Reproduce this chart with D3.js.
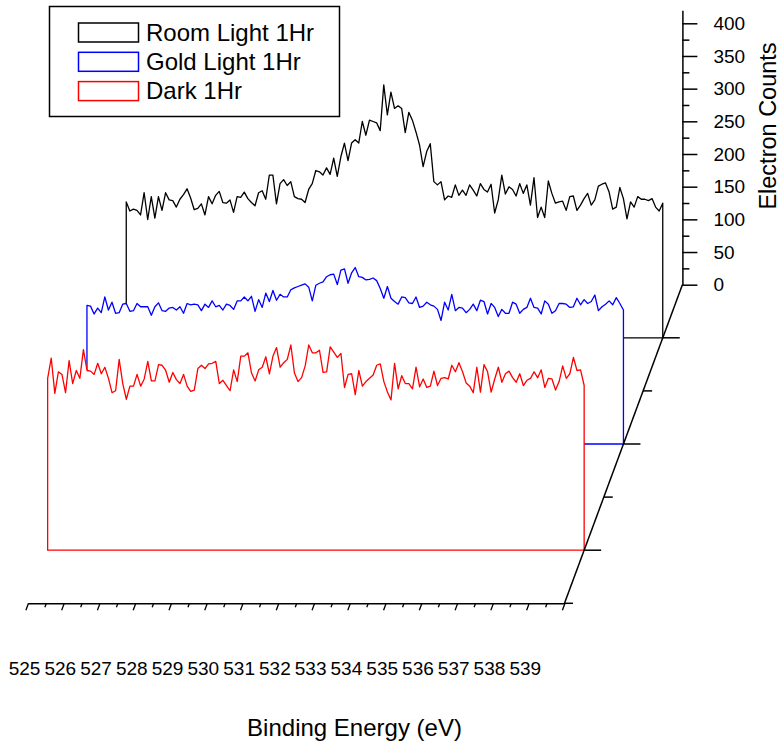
<!DOCTYPE html>
<html>
<head>
<meta charset="utf-8">
<script src="https://cdn.jsdelivr.net/npm/d3@7"></script>
<style>
  body { margin: 0; background: #fff; }
  svg { display: block; font-family: "Liberation Sans", Arial, sans-serif; }
</style>
</head>
<body>
<div id="chart"></div>
<script>
// Binding energy grid: 525.0 .. 540.0 eV, 0.1 eV steps (151 channels)
const energyStart = 525, energyStep = 0.1;

// Electron counts
const roomLight = [208,194,197,195,188,222,181,216,183,216,195,222,211,210,200,212,219,228,214,196,
  198,205,188,216,205,218,224,207,206,211,192,216,215,223,213,207,202,222,225,212,
  249,249,205,236,242,233,239,216,213,212,207,227,236,256,254,249,260,250,275,247,
  277,298,271,298,303,298,331,310,333,331,329,317,387,341,376,351,355,351,314,345,
  333,315,295,262,285,297,239,234,239,211,217,215,234,218,226,218,234,226,217,236,
  227,223,235,191,211,249,220,231,227,217,236,221,234,203,245,184,200,184,240,221,
  206,208,209,195,216,217,195,203,213,221,203,211,232,235,237,223,197,200,230,213,
  182,208,200,216,212,212,210,213,200,194,206];

const goldLight = [212,211,199,208,201,225,205,217,200,201,214,215,203,204,215,210,210,210,197,210,
  216,204,203,208,209,205,210,200,215,213,214,213,204,214,209,219,210,212,205,214,
  212,206,219,219,225,219,226,203,221,209,231,218,235,220,229,225,225,236,239,241,
  243,245,240,219,243,246,248,256,259,260,244,266,268,246,262,270,256,255,251,252,
  254,250,238,223,241,223,218,214,225,224,216,215,225,209,211,217,213,211,206,189,
  217,205,229,204,209,208,201,206,214,204,220,218,199,215,209,195,206,200,200,217,
  214,200,206,209,223,209,208,199,219,214,200,204,215,215,214,209,210,223,213,221,
  215,218,228,204,210,214,219,213,224,215,205];

const dark = [263,294,240,273,269,241,290,255,275,263,307,275,274,269,286,270,280,263,241,244,
  292,255,231,251,251,269,251,262,289,259,259,284,283,275,257,272,261,255,269,251,
  243,245,278,283,278,285,286,289,255,260,252,244,276,258,297,297,302,271,259,276,
  280,296,270,297,310,280,287,292,314,271,258,264,282,314,302,302,306,272,273,311,
  303,295,301,249,269,270,238,275,251,258,263,268,283,285,258,242,230,286,247,267,
  255,255,247,280,250,262,249,251,274,252,263,264,262,283,273,287,273,256,251,241,
  280,242,284,273,242,262,280,257,270,274,264,257,270,252,260,263,273,264,276,249,
  263,262,245,258,282,263,270,295,275,276,252];

const seriesNames = ["Room Light 1Hr", "Gold Light 1Hr", "Dark 1Hr"];
const seriesColors = ["#000000", "#0000ff", "#ff0000"];
const seriesDepth = [5, 3, 1];
const seriesValues = [roomLight, goldLight, dark];

const energyLabels = d3.range(525, 540, 1);
const countTicks = d3.range(0, 401, 50);

const width = 781, height = 743;

const svg = d3.select("#chart").append("svg")
  .attr("width", width)
  .attr("height", height);

// === Scales (3D waterfall projection) ===
const x = d3.scaleLinear().domain([525, 540]).range([28, 564.5]);
const zx = d3.scaleLinear().domain([0, 6]).range([0, 117.9]);
const zy = d3.scaleLinear().domain([0, 6]).range([603.3, 284.7]);
const yc = d3.scaleLinear().domain([0, 400]).range([0, 261.4]);
const proj = (e, c, z) => [x(e) + zx(z), zy(z) - yc(c)];

const energy = i => energyStart + i * energyStep;

// === Curves, back to front, each filled white so it hides what is behind ===
[0, 1, 2].forEach(k => {
  const z = seriesDepth[k];
  const pts = [proj(525, 0, z)]
    .concat(seriesValues[k].map((v, i) => proj(energy(i), v, z)))
    .concat([proj(540, 0, z)]);
  svg.append("path")
    .attr("d", d3.line()(pts) + "Z")
    .attr("fill", "#fff")
    .attr("stroke", seriesColors[k])
    .attr("stroke-width", 1.3)
    .attr("stroke-linejoin", "round");
});

// === X axis (front edge) ===
const xAxisG = svg.append("g")
  .attr("transform", `translate(0,${zy(0)})`)
  .call(d3.axisBottom(x)
    .tickValues(d3.range(525, 540.01, 1))
    .tickSize(7)
    .tickSizeOuter(0)
    .tickFormat(d => energyLabels.includes(d) ? d : ""));
xAxisG.selectAll(".tick line").attr("x2", -2.6).attr("y2", 7).attr("stroke-width", 1.3);
xAxisG.selectAll(".tick text")
  .attr("y", 58).attr("x", -4)
  .attr("font-size", 19)
  .attr("font-family", "Liberation Sans, Arial, sans-serif")
  .attr("fill", "#000");
xAxisG.select(".domain").attr("stroke-width", 1.5);

const xMinorG = svg.append("g")
  .attr("transform", `translate(0,${zy(0)})`)
  .call(d3.axisBottom(x)
    .tickValues(d3.range(525.5, 540, 1))
    .tickSize(4)
    .tickFormat(""));
xMinorG.select(".domain").remove();
xMinorG.selectAll(".tick line").attr("x2", -1.5).attr("y2", 4).attr("stroke-width", 1.3);

// === Depth axis ===
const p0 = proj(540, 0, 0), p6 = proj(540, 0, 6);
svg.append("line")
  .attr("x1", p0[0]).attr("y1", p0[1])
  .attr("x2", p6[0]).attr("y2", p6[1])
  .attr("stroke", "#000").attr("stroke-width", 1.5);

const depthTicks = [0, 1, 2, 3, 4, 5];
const depthTickLen = [8.5, 17, 9, 17, 9, 17];
depthTicks.forEach((z, i) => {
  const p = proj(540, 0, z);
  svg.append("line")
    .attr("x1", p[0]).attr("y1", p[1])
    .attr("x2", p[0] + depthTickLen[i]).attr("y2", p[1])
    .attr("stroke", "#000").attr("stroke-width", 1.5);
});

// === Y axis (back plane) ===
const yAxisScale = d3.scaleLinear()
  .domain([0, 420])
  .range([zy(6), zy(6) - yc(420)]);

const yAxisG = svg.append("g")
  .attr("transform", `translate(${p6[0]},0)`)
  .call(d3.axisRight(yAxisScale)
    .tickValues(countTicks)
    .tickSize(15)
    .tickPadding(16)
    .tickSizeOuter(0));
yAxisG.selectAll(".tick line").attr("stroke-width", 1.5);
yAxisG.select(".domain").attr("stroke-width", 1.5);
yAxisG.selectAll(".tick text")
  .attr("font-size", 19)
  .attr("font-family", "Liberation Sans, Arial, sans-serif")
  .attr("fill", "#000");

const yMinorG = svg.append("g")
  .attr("transform", `translate(${p6[0]},0)`)
  .call(d3.axisRight(yAxisScale)
    .tickValues(d3.range(25, 400, 50))
    .tickSize(7)
    .tickFormat(""));
yMinorG.select(".domain").remove();
yMinorG.selectAll(".tick line").attr("stroke-width", 1.5);

// === Axis titles ===
svg.append("text")
  .attr("x", 354.5)
  .attr("y", 736)
  .attr("text-anchor", "middle")
  .attr("font-size", 24)
  .text("Binding Energy (eV)");

svg.append("text")
  .attr("transform", "translate(776,126) rotate(-90)")
  .attr("text-anchor", "middle")
  .attr("font-size", 23.5)
  .text("Electron Counts");

// === Legend ===
const legend = svg.append("g");
legend.append("rect")
  .attr("x", 49.5).attr("y", 6.5)
  .attr("width", 290).attr("height", 110)
  .attr("fill", "#fff")
  .attr("stroke", "#000").attr("stroke-width", 1.5);

const rows = legend.selectAll(".row")
  .data(seriesNames)
  .join("g")
  .attr("transform", (d, i) => `translate(0,${i * 29.3})`);

rows.append("rect")
  .attr("x", 78.5).attr("y", 23)
  .attr("width", 60).attr("height", 19)
  .attr("fill", "none")
  .attr("stroke", (d, i) => seriesColors[i])
  .attr("stroke-width", 1.5);

rows.append("text")
  .attr("x", 146)
  .attr("y", 40.5)
  .attr("font-size", 24)
  .text(d => d);
</script>
</body>
</html>
